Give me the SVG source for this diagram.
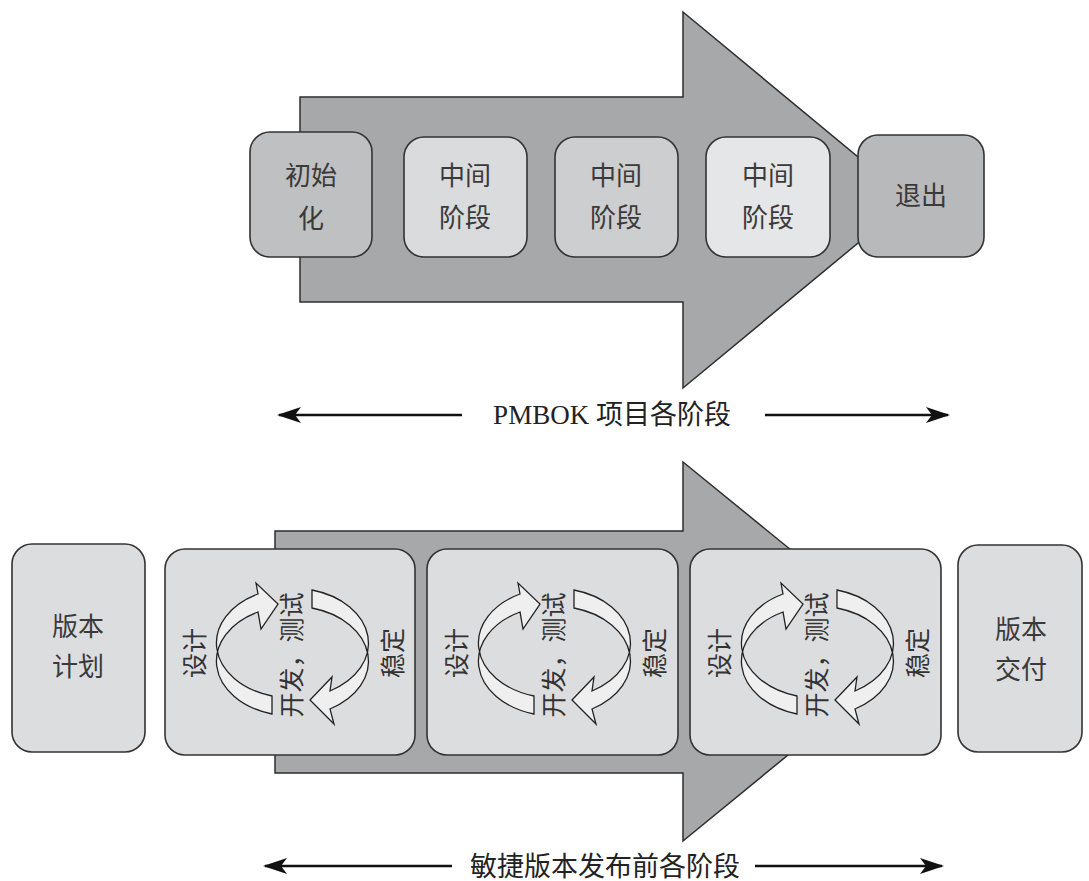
<svg xmlns="http://www.w3.org/2000/svg" xmlns:xlink="http://www.w3.org/1999/xlink" width="1089" height="881" viewBox="0 0 1089 881">
  <style>
    .bigarrow { fill: #a7a8aa; stroke: #2e2e2e; stroke-width: 1.5; }
    .box { stroke: #333; stroke-width: 1.6; }
    .lbl { font-family: "Noto Sans CJK SC", sans-serif; font-size: 26px; fill: #3a3a3a; text-anchor: middle; }
    .vlbl { font-family: "Noto Sans CJK SC", sans-serif; font-size: 25px; fill: #333; text-anchor: middle; dominant-baseline: central; }
    .cyc { fill: #efefef; stroke: #222; stroke-width: 1.3; stroke-linejoin: miter; }
    .span { stroke: #111; stroke-width: 2.5; fill: none; marker-end: url(#ah); }
    .cap { font-family: "Liberation Serif", "Noto Sans CJK SC", serif; font-size: 27px; fill: #222; text-anchor: middle; }
  </style>
  <defs>
    <marker id="ah" viewBox="0 0 24 16" refX="22" refY="8" markerWidth="24" markerHeight="16" markerUnits="userSpaceOnUse" orient="auto">
      <path d="M0,0 L24,8 L0,16 L6,8 Z" fill="#111"/>
    </marker>
    <g id="cycle">
      <path class="cyc" d="M272,696 A76,55 0 0 1 258,594 L256,583 L278,604 L261,629 L258,612 A76,55 0 0 0 272,714 Z"/>
      <path class="cyc" d="M312,590 A76,55 0 0 1 330,691 L332,677 L310,700 L334,724 L330,709 A76,55 0 0 0 312,608 Z"/>
      <text class="vlbl" transform="translate(193,653) rotate(-90)">设计</text>
      <text class="vlbl" transform="translate(290,655) rotate(-90)">开发，测试</text>
      <text class="vlbl" transform="translate(391,653) rotate(-90)">稳定</text>
    </g>
  </defs>

  <g id="connectors">
    <polygon id="pmbok-arrow" class="bigarrow" points="300,97 683,97 683,12 910,200 683,388 683,302 300,302"/>
    <polygon id="agile-arrow" class="bigarrow" points="275,531 683,531 683,462 915,651 683,841 683,773 275,773"/>
    <line class="span" x1="462" y1="415" x2="279" y2="415"/>
    <line class="span" x1="765" y1="415" x2="948" y2="415"/>
    <line class="span" x1="452" y1="866" x2="265" y2="866"/>
    <line class="span" x1="755" y1="866" x2="942" y2="866"/>
  </g>

  <g id="node-init">
    <rect class="box" x="250" y="132" width="122" height="125" rx="20" fill="#bfc0c2"/>
    <text class="lbl" x="311" y="185">初始</text>
    <text class="lbl" x="311" y="228">化</text>
  </g>
  <g id="node-mid1">
    <rect class="box" x="404" y="137" width="123" height="120" rx="20" fill="#dadbdd"/>
    <text class="lbl" x="465" y="185">中间</text>
    <text class="lbl" x="465" y="227">阶段</text>
  </g>
  <g id="node-mid2">
    <rect class="box" x="555" y="137" width="123" height="120" rx="20" fill="#cdced0"/>
    <text class="lbl" x="616" y="185">中间</text>
    <text class="lbl" x="616" y="227">阶段</text>
  </g>
  <g id="node-mid3">
    <rect class="box" x="706" y="137" width="124" height="120" rx="20" fill="#e5e6e7"/>
    <text class="lbl" x="768" y="185">中间</text>
    <text class="lbl" x="768" y="227">阶段</text>
  </g>
  <g id="node-exit">
    <rect class="box" x="858" y="135" width="126" height="122" rx="20" fill="#b8b9bb"/>
    <text class="lbl" x="921" y="205">退出</text>
  </g>

  <text id="pmbok-label" class="cap" x="612" y="424">PMBOK 项目各阶段</text>

  <g id="node-plan">
    <rect class="box" x="12" y="544" width="133" height="208" rx="20" fill="#dcdddf"/>
    <text class="lbl" x="78" y="636">版本</text>
    <text class="lbl" x="78" y="676">计划</text>
  </g>
  <g id="node-iter1">
    <rect class="box" x="165" y="549" width="250" height="206" rx="20" fill="#dcdddf"/>
    <use xlink:href="#cycle"/>
  </g>
  <g id="node-iter2">
    <rect class="box" x="427" y="549" width="251" height="206" rx="20" fill="#dcdddf"/>
    <use xlink:href="#cycle" transform="translate(262,0)"/>
  </g>
  <g id="node-iter3">
    <rect class="box" x="690" y="549" width="251" height="206" rx="20" fill="#dcdddf"/>
    <use xlink:href="#cycle" transform="translate(525,0)"/>
  </g>
  <g id="node-deliver">
    <rect class="box" x="958" y="545" width="124" height="207" rx="20" fill="#dcdddf"/>
    <text class="lbl" x="1021" y="639">版本</text>
    <text class="lbl" x="1021" y="679">交付</text>
  </g>

  <text id="agile-label" class="cap" x="605" y="876">敏捷版本发布前各阶段</text>
</svg>
